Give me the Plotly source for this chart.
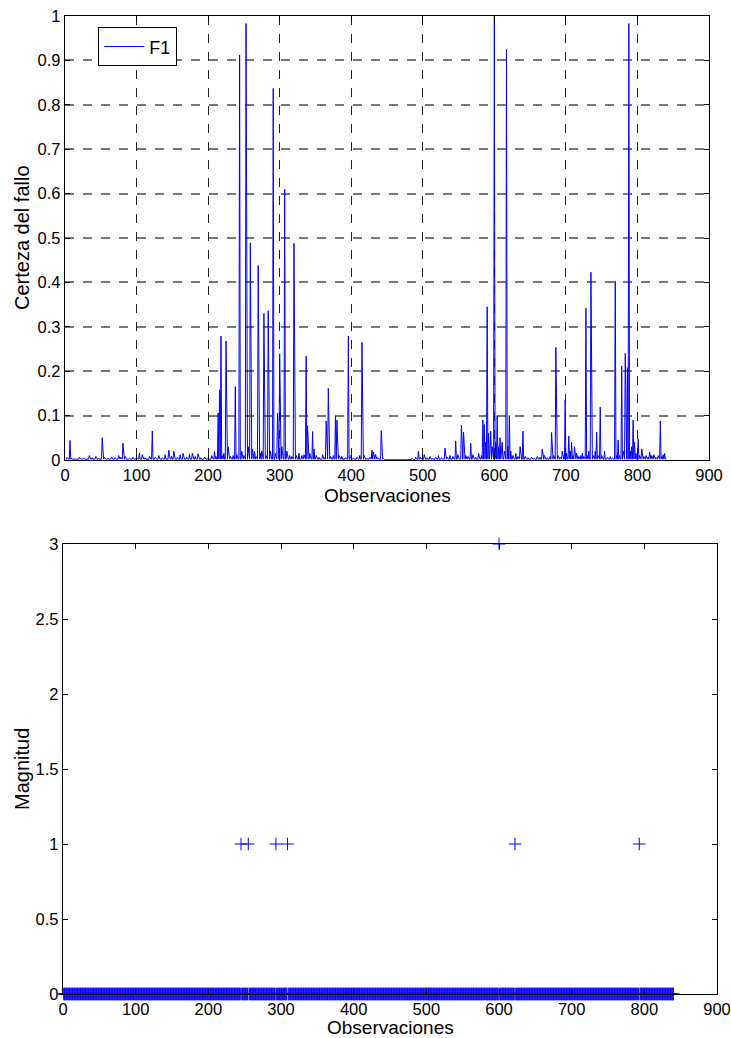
import plotly.graph_objects as go

W, H = 731, 1038

# ---------------- data ----------------
n_obs = 840
nivel_base = 0.002          # general noise floor of "Certeza del fallo"
plano_ini, plano_fin = 446, 489
nivel_plano = 0.0005        # flat stretch near 450-490

picos_obs = [
    3, 7, 9, 14, 20, 26, 31, 34, 38, 43, 47, 52, 55, 60, 65, 70, 75, 78, 81, 84,
    90, 95, 100, 104, 108, 112, 118, 122, 126, 131, 136, 140, 145, 149, 152, 157,
    161, 165, 170, 174, 178, 182, 186, 190, 195, 200, 205, 209,
    211, 214, 216, 218, 220, 222, 225, 228, 231, 235, 238, 240, 244, 247, 250, 253,
    256, 259, 262, 265, 267, 270, 273, 275, 278, 281, 284, 287, 291, 294, 297, 300,
    303, 307, 310, 314, 317, 320, 323, 327, 331, 334, 337, 339, 342, 346, 348, 351,
    355, 360, 363, 365, 368, 371, 375, 378, 380, 383, 387, 392, 396, 399, 403, 408,
    412, 415, 418, 422, 426, 429, 431, 434, 437, 442, 445,
    480, 485, 490, 494, 497, 502, 506, 510, 514, 518, 522, 526, 531, 534, 538, 542,
    546, 549, 554, 557, 560, 563, 567, 570, 574, 578, 582, 584, 586, 588, 590, 592,
    594, 595, 597, 600, 602, 604, 606, 608, 610, 611, 614, 617, 619, 621, 623, 626,
    630, 633, 636, 640, 643, 647, 652, 656, 660, 664, 667, 670, 674, 678, 680, 683,
    686, 689, 692, 695, 699, 701, 704, 706, 708, 710, 712, 715, 718, 721, 723, 725,
    728, 730, 732, 735, 738, 741, 743, 745, 748, 750, 754, 758, 762, 765, 769, 771,
    773, 775, 778, 780, 783, 786, 788, 790, 792, 794, 796, 798, 801, 803, 806, 809,
    812, 815, 817, 820, 823, 826, 829, 832, 834, 836, 838, 840,
]
picos_val = [
    0.006, 0.044, 0.004, 0.003, 0.006, 0.004, 0.003, 0.010, 0.005, 0.008, 0.004, 0.050, 0.006, 0.004, 0.007, 0.005, 0.010, 0.006, 0.038, 0.008,
    0.004, 0.006, 0.005, 0.016, 0.012, 0.005, 0.008, 0.065, 0.006, 0.010, 0.005, 0.012, 0.022, 0.008, 0.020, 0.006,
    0.012, 0.015, 0.006, 0.013, 0.015, 0.008, 0.014, 0.005, 0.006, 0.004, 0.010, 0.020,
    0.008, 0.106, 0.158, 0.279, 0.010, 0.015, 0.268, 0.030, 0.008, 0.010, 0.165, 0.012, 0.912, 0.020, 0.010, 0.983,
    0.030, 0.489, 0.025, 0.020, 0.008, 0.438, 0.015, 0.020, 0.330, 0.010, 0.336, 0.020, 0.837, 0.015, 0.106, 0.239,
    0.030, 0.610, 0.020, 0.010, 0.008, 0.488, 0.010, 0.015, 0.010, 0.012, 0.234, 0.077, 0.015, 0.064, 0.025, 0.010,
    0.006, 0.012, 0.005, 0.088, 0.161, 0.008, 0.010, 0.099, 0.090, 0.010, 0.008, 0.005, 0.279, 0.010, 0.004, 0.006,
    0.010, 0.265, 0.010, 0.004, 0.006, 0.022, 0.018, 0.012, 0.005, 0.066, 0.004,
    0.002, 0.004, 0.006, 0.020, 0.006, 0.012, 0.005, 0.008, 0.004, 0.006, 0.010, 0.005, 0.027, 0.006, 0.010, 0.008,
    0.043, 0.012, 0.078, 0.063, 0.010, 0.008, 0.038, 0.012, 0.006, 0.015, 0.010, 0.090, 0.080, 0.040, 0.345, 0.060,
    0.020, 0.065, 0.030, 1.000, 0.040, 0.100, 0.030, 0.050, 0.020, 0.040, 0.020, 0.925, 0.030, 0.100, 0.020, 0.010,
    0.015, 0.008, 0.030, 0.065, 0.008, 0.005, 0.006, 0.004, 0.008, 0.006, 0.025, 0.010, 0.005, 0.008, 0.062, 0.010,
    0.254, 0.010, 0.006, 0.020, 0.135, 0.015, 0.054, 0.020, 0.040, 0.010, 0.030, 0.015, 0.008, 0.010, 0.015, 0.008,
    0.342, 0.010, 0.020, 0.423, 0.010, 0.020, 0.063, 0.010, 0.119, 0.010, 0.020, 0.006, 0.008, 0.005, 0.403, 0.010,
    0.045, 0.010, 0.212, 0.020, 0.240, 0.208, 0.983, 0.020, 0.030, 0.090, 0.040, 0.015, 0.047, 0.010, 0.025, 0.008,
    0.010, 0.006, 0.018, 0.010, 0.012, 0.006, 0.010, 0.088, 0.008, 0.012, 0.015, 0.004,
]

magn_obs = [245, 255, 293, 309, 600, 622, 793]
magn_val = [1, 1, 1, 1, 3, 1, 1]

x_ticks = [0, 100, 200, 300, 400, 500, 600, 700, 800, 900]
y1_ticks = [0, 0.1, 0.2, 0.3, 0.4, 0.5, 0.6, 0.7, 0.8, 0.9, 1]
y1_labels = ["0", "0.1", "0.2", "0.3", "0.4", "0.5", "0.6", "0.7", "0.8", "0.9", "1"]
y2_ticks = [0, 0.5, 1, 1.5, 2, 2.5, 3]
y2_labels = ["0", "0.5", "1", "1.5", "2", "2.5", "3"]

# ---------------- series assembly ----------------
obs = list(range(1, n_obs + 1))
certeza = {o: (nivel_plano if plano_ini <= o <= plano_fin else nivel_base) for o in obs}
for o, v in zip(picos_obs, picos_val):
    certeza[o] = v
certeza_y = [certeza[o] for o in obs]

magn = {o: 0 for o in obs}
for o, v in zip(magn_obs, magn_val):
    magn[o] = v
magn_y = [magn[o] for o in obs]

FONT = "Liberation Sans, Arial, sans-serif"

fig = go.Figure()
fig.add_trace(go.Scatter(
    x=obs, y=certeza_y, mode="lines", name="F1",
    line=dict(color="#0000ff", width=1),
    xaxis="x", yaxis="y", showlegend=True,
))
fig.add_trace(go.Scatter(
    x=obs, y=magn_y, mode="markers", name="Magnitud",
    marker=dict(symbol="cross-thin", size=9, color="#0000ff",
                line=dict(width=1, color="#0000ff")),
    xaxis="x2", yaxis="y2", showlegend=False, cliponaxis=False,
))


def px_x(p):
    return p / W


def px_y(p):
    return 1 - p / H


axis_common = dict(
    showline=True, linecolor="black", linewidth=1.3, mirror="ticks",
    ticks="inside", ticklen=5, tickwidth=1, tickcolor="black",
    zeroline=False, automargin=False,
    tickfont=dict(family=FONT, size=16.5, color="black"),
)

fig.update_layout(
    width=W, height=H,
    margin=dict(l=0, r=0, t=0, b=0, autoexpand=False),
    paper_bgcolor="white", plot_bgcolor="white",
    font=dict(family=FONT, color="black"),
    xaxis=dict(domain=[px_x(65), px_x(709)], range=[0, 900], anchor="y",
               tickvals=x_ticks, ticktext=[str(t) for t in x_ticks],
               showgrid=True, gridcolor="#222222", griddash="dash", gridwidth=1,
               **axis_common),
    yaxis=dict(domain=[px_y(460), px_y(16)], range=[0, 1], anchor="x",
               tickvals=y1_ticks, ticktext=y1_labels,
               showgrid=True, gridcolor="#777777", griddash="dash", gridwidth=1.5,
               **axis_common),
    xaxis2=dict(domain=[px_x(63), px_x(717)], range=[0, 900], anchor="y2",
                tickvals=x_ticks, ticktext=[str(t) for t in x_ticks],
                showgrid=False, **axis_common),
    yaxis2=dict(domain=[px_y(994), px_y(544)], range=[0, 3], anchor="x2",
                tickvals=y2_ticks, ticktext=y2_labels,
                showgrid=False, **axis_common),
    legend=dict(x=px_x(98), y=px_y(27), xanchor="left", yanchor="top",
                bordercolor="black", borderwidth=1.3, bgcolor="white",
                font=dict(family=FONT, size=18, color="black"),
                itemwidth=40, tracegroupgap=0),
    annotations=[
        dict(text="Observaciones", xref="paper", yref="paper",
             x=px_x(387), y=px_y(495), xanchor="center", yanchor="middle",
             showarrow=False, font=dict(family=FONT, size=19, color="black")),
        dict(text="Certeza del fallo", xref="paper", yref="paper",
             x=px_x(22), y=px_y(238), xanchor="center", yanchor="middle",
             textangle=-90, showarrow=False,
             font=dict(family=FONT, size=20, color="black")),
        dict(text="Observaciones", xref="paper", yref="paper",
             x=px_x(390), y=px_y(1027), xanchor="center", yanchor="middle",
             showarrow=False, font=dict(family=FONT, size=19, color="black")),
        dict(text="Magnitud", xref="paper", yref="paper",
             x=px_x(22), y=px_y(769), xanchor="center", yanchor="middle",
             textangle=-90, showarrow=False,
             font=dict(family=FONT, size=20, color="black")),
    ],
)

fig.write_html(
    "out.html",
    config={"displayModeBar": False},
    post_script="document.body.style.margin='0';document.body.style.padding='0';"
                "document.body.style.overflow='hidden';",
)
